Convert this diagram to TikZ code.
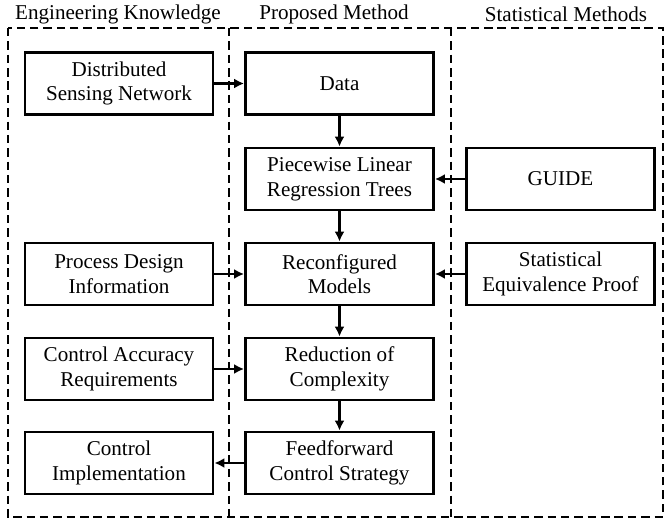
\documentclass[tikz,border=0pt]{standalone}
\usepackage{fontspec}
\setmainfont{Liberation Serif}
\newfontfamily\tnr{Liberation Serif}
\usepackage{tikz}
\usetikzlibrary{arrows.meta}

\begin{document}
\begin{tikzpicture}[x=0.025cm,y=-0.025cm,
    box/.style={draw,line width=2pt,minimum width=4.7cm,minimum height=1.55cm,
      inner sep=0pt,align=center,font=\tnr\fontsize{15}{17.5}\selectfont},
    ttl/.style={font=\tnr\fontsize{15}{17.5}\selectfont},
    frame/.style={line width=1.2pt,dash pattern=on 6pt off 3.5pt},
    arr/.style={-{Latex[length=7pt,width=7pt]},line width=1.6pt}]

    \useasboundingbox (0,0) rectangle (665,523);

    % columns
    \draw[frame] (8,28) rectangle (663,517);
    \draw[frame] (229,28) -- (229,517);
    \draw[frame] (451,28) -- (451,517);
    \node[ttl] (tEng) at (118,14) {Engineering Knowledge};
    \node[ttl] (tProp) at (334,14) {Proposed Method};
    \node[ttl] (tStat) at (566,14) {Statistical Methods};

    % engineering knowledge
    \node[box] (sens) at (119,83.5) {Distributed\\Sensing Network};
    \node[box] (design) at (119,274) {Process Design\\Information};
    \node[box] (acc) at (119,369) {Control Accuracy\\Requirements};
    \node[box] (impl) at (119,463) {Control\\Implementation};

    % proposed method
    \node[box] (data) at (339.5,83.5) {Data};
    \node[box] (trees) at (339.5,179) {Piecewise Linear\\Regression Trees};
    \node[box] (models) at (339.5,274) {Reconfigured\\Models};
    \node[box] (reduce) at (339.5,369) {Reduction of\\Complexity};
    \node[box] (ffwd) at (339.5,463) {Feedforward\\Control Strategy};

    % statistical methods
    \node[box] (guide) at (560.5,179) {GUIDE};
    \node[box] (proof) at (560.5,274) {Statistical\\Equivalence Proof};

    \draw[arr] (sens) -- (data);
    \draw[arr] (data) -- (trees);
    \draw[arr] (trees) -- (models);
    \draw[arr] (models) -- (reduce);
    \draw[arr] (reduce) -- (ffwd);
    \draw[arr] (guide) -- (trees);
    \draw[arr] (proof) -- (models);
    \draw[arr] (design) -- (models);
    \draw[arr] (acc) -- (reduce);
    \draw[arr] (ffwd) -- (impl);

\end{tikzpicture}
\end{document}
